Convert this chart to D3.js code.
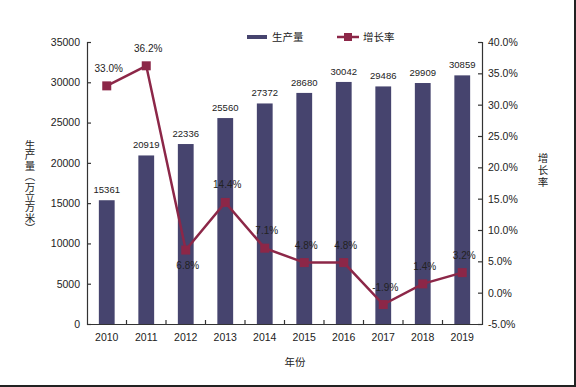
<!DOCTYPE html>
<html>
<head>
<meta charset="utf-8">
<script src="https://cdn.jsdelivr.net/npm/d3@7/dist/d3.min.js"></script>
<style>
  body { margin: 0; background: #fff; }
  svg { display: block; font-family: "Liberation Sans", Arial, "Noto Sans CJK SC", sans-serif; }
</style>
</head>
<body>
<svg width="576" height="387"></svg>
<script>
const years = ["2010", "2011", "2012", "2013", "2014", "2015", "2016", "2017", "2018", "2019"];
const output = [15361, 20919, 22336, 25560, 27372, 28680, 30042, 29486, 29909, 30859];
const growth = [33.0, 36.2, 6.8, 14.4, 7.1, 4.8, 4.8, -1.9, 1.4, 3.2];
const leftTicks = [0, 5000, 10000, 15000, 20000, 25000, 30000, 35000];
const rightTicks = [-5, 0, 5, 10, 15, 20, 25, 30, 35, 40];

const barColor = "#46446e";
const lineColor = "#8c2748";
const textColor = "#222";

const svg = d3.select("svg");
const plotLeft = 87, plotRight = 482, plotTop = 42, plotBottom = 324;

const x = d3.scaleBand().domain(years).range([plotLeft, plotRight]);
const yL = d3.scaleLinear().domain([0, 35000]).range([plotBottom, plotTop]);
const yR = d3.scaleLinear().domain([-5, 40]).range([plotBottom, plotTop]);

// bars
svg.selectAll(".bar").data(output).enter().append("rect")
    .attr("x", (d, i) => x(years[i]) + x.bandwidth() * 0.3)
    .attr("y", d => yL(d))
    .attr("width", x.bandwidth() * 0.4)
    .attr("height", d => plotBottom - yL(d))
    .attr("fill", barColor);

// bar value labels
svg.selectAll(".barlab").data(output).enter().append("text")
    .attr("x", (d, i) => x(years[i]) + x.bandwidth() / 2)
    .attr("y", d => yL(d) - 7)
    .attr("text-anchor", "middle")
    .attr("font-size", "9.5px")
    .attr("fill", textColor)
    .text(d => d);

// left axis
const axL = svg.append("g").attr("transform", `translate(${plotLeft},0)`)
    .call(d3.axisRight(yL).tickValues(leftTicks).tickSize(4).tickFormat(d3.format("d")));
axL.selectAll("text").attr("x", -7).attr("text-anchor", "end");

// right axis
const axR = svg.append("g").attr("transform", `translate(${plotRight},0)`)
    .call(d3.axisLeft(yR).tickValues(rightTicks).tickSize(4).tickFormat(d => d.toFixed(1) + "%"));
axR.selectAll("text").attr("x", 6).attr("text-anchor", "start");

// bottom axis
const axB = svg.append("g").attr("transform", `translate(0,${plotBottom})`)
    .call(d3.axisTop(x).tickSize(0).tickFormat(""));
axB.selectAll(".sep").data(years.slice(1)).enter().append("line")
    .attr("class", "sep")
    .attr("x1", d => x(d)).attr("x2", d => x(d))
    .attr("y1", 0).attr("y2", -4);
axB.selectAll(".lab").data(years).enter().append("text")
    .attr("class", "lab")
    .attr("x", d => x(d) + x.bandwidth() / 2)
    .attr("y", 17)
    .attr("text-anchor", "middle")
    .text(d => d);

svg.selectAll(".domain, .tick line, .sep").attr("stroke", "#333").attr("stroke-width", 1.2);
svg.selectAll("g text").attr("font-size", "10.5px").attr("fill", textColor)
    .attr("font-family", "Liberation Sans, Arial, sans-serif");

// growth line
const line = d3.line()
    .x((d, i) => x(years[i]) + x.bandwidth() / 2)
    .y(d => yR(d));
svg.append("path").datum(growth)
    .attr("d", line)
    .attr("fill", "none")
    .attr("stroke", lineColor)
    .attr("stroke-width", 2.5);

svg.selectAll(".mk").data(growth).enter().append("rect")
    .attr("x", (d, i) => x(years[i]) + x.bandwidth() / 2 - 4.5)
    .attr("y", d => yR(d) - 4.5)
    .attr("width", 9).attr("height", 9)
    .attr("fill", lineColor);

svg.selectAll(".glab").data(growth).enter().append("text")
    .attr("x", (d, i) => x(years[i]) + x.bandwidth() / 2 + 2)
    .attr("y", (d, i) => i === 2 ? yR(d) + 19 : yR(d) - 14)
    .attr("text-anchor", "middle")
    .attr("font-size", "10px")
    .attr("fill", textColor)
    .text(d => d.toFixed(1) + "%");

// vertical titles: one text, each upright character on its own line
function verticalTitle(chars, cx, y0, step) {
    svg.append("text")
        .attr("font-size", "10.5px")
        .attr("font-family", "Noto Sans CJK SC, sans-serif")
        .attr("fill", textColor)
        .attr("text-anchor", "middle")
        .selectAll("tspan").data(chars).enter().append("tspan")
        .attr("x", cx)
        .attr("y", (d, i) => y0 + i * step)
        .text(d => d);
}
verticalTitle(["生", "产", "量", "︵", "万", "立", "方", "米", "︶"], 30, 149, 10.4);
verticalTitle(["增", "长", "率"], 543, 162, 12);

svg.append("text")
    .attr("x", 295).attr("y", 366)
    .attr("text-anchor", "middle")
    .attr("font-size", "10.5px")
    .attr("font-family", "Noto Sans CJK SC, sans-serif")
    .attr("fill", textColor)
    .text("年份");

// legend
const lg = svg.append("g").attr("font-size", "10.5px")
    .attr("font-family", "Noto Sans CJK SC, sans-serif").attr("fill", textColor);
lg.append("rect").attr("x", 247).attr("y", 35).attr("width", 20).attr("height", 4).attr("fill", barColor);
lg.append("text").attr("x", 272).attr("y", 41).text("生产量");
lg.append("line").attr("x1", 337).attr("x2", 359).attr("y1", 37).attr("y2", 37)
    .attr("stroke", lineColor).attr("stroke-width", 2.5);
lg.append("rect").attr("x", 344).attr("y", 33).attr("width", 8).attr("height", 8).attr("fill", lineColor);
lg.append("text").attr("x", 363).attr("y", 41).text("增长率");

// frame edges
svg.append("line").attr("x1", 575).attr("x2", 575).attr("y1", 0).attr("y2", 387)
    .attr("stroke", "#222").attr("stroke-width", 2);
svg.append("line").attr("x1", 0).attr("x2", 576).attr("y1", 386).attr("y2", 386)
    .attr("stroke", "#222").attr("stroke-width", 2);
</script>
</body>
</html>
